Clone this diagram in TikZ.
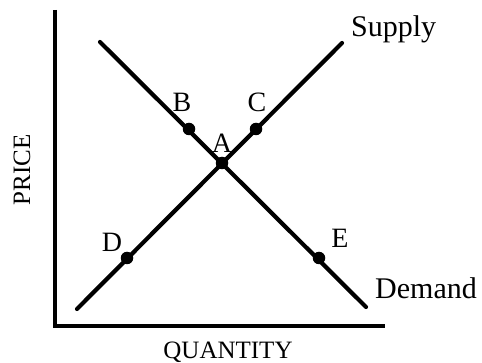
\documentclass[tikz,border=0pt]{standalone}
\usepackage{fontspec}
\setmainfont{Liberation Serif}

\begin{document}
\begin{tikzpicture}[
    x=1pt, y=-1pt,
    axis/.style={line width=3.2pt},
    curve/.style={line width=4.2pt, line cap=round},
    point/.style={circle, fill=black, inner sep=0pt, minimum size=12.5pt},
    letter/.style={font=\fontsize{28}{30}\selectfont, inner sep=0pt},
    curvelabel/.style={font=\fontsize{30}{32}\selectfont, inner sep=0pt, anchor=base west},
    axislabel/.style={font=\fontsize{25}{27}\selectfont, inner sep=0pt}
]
\useasboundingbox (0,0) rectangle (482,363);

% axes
\coordinate (ytop) at (55,10);
\coordinate (origin) at (55,326);
\coordinate (xend) at (385,326);
\draw[axis] (ytop) -- (origin) -- (xend);

% supply and demand
\coordinate (s0) at (77,309);
\coordinate (s1) at (342,43);
\coordinate (d0) at (100,42);
\coordinate (d1) at (366,307);
\draw[curve] (s0) -- (s1);
\draw[curve] (d0) -- (d1);

\node[point] (A) at (222,163) {};
\node[point] (B) at (189,129) {};
\node[point] (C) at (256,129) {};
\node[point] (D) at (127,258) {};
\node[point] (E) at (319,258) {};

\node[letter] (la) at (222,143) {A};
\node[letter] (lb) at (182,102) {B};
\node[letter] (lc) at (257,102) {C};
\node[letter] (ld) at (112,242) {D};
\node[letter] (le) at (340,238) {E};

\node[curvelabel] (supply) at (351,37) {Supply};
\node[curvelabel] (demand) at (375,299) {Demand};

\node[axislabel, rotate=90] (price) at (22,170) {PRICE};
\node[axislabel] (quantity) at (228,352) {QUANTITY};
\end{tikzpicture}
\end{document}
